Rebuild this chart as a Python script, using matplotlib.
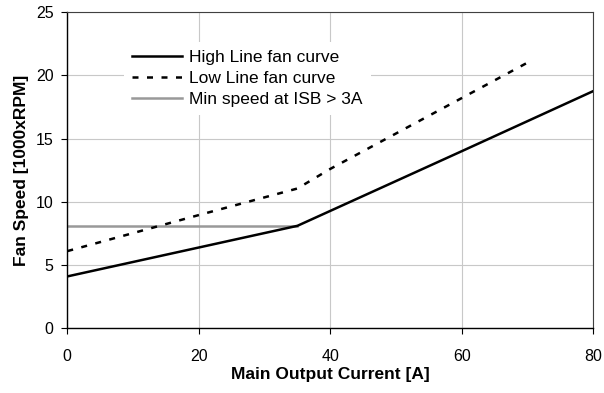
import matplotlib
matplotlib.use("Agg")
import matplotlib.pyplot as plt

plt.rcParams["font.family"] = ["Liberation Sans", "DejaVu Sans"]

# data
high_x = [0, 35, 60, 80]
high_y = [4.1, 8.1, 14.0, 18.75]
low_x = [0, 20, 35, 40, 50, 60, 70]
low_y = [6.1, 8.95, 11.05, 12.6, 15.4, 18.2, 21.0]
min_x = [0, 35]
min_y = [8.1, 8.1]
x_ticks = [0, 20, 40, 60, 80]
y_ticks = [0, 5, 10, 15, 20, 25]

fig = plt.figure(figsize=(6.04, 3.93), dpi=100)
ax = fig.add_axes([67.3 / 604, (393 - 328.3) / 393, 526 / 604, 316.3 / 393])

ax.plot(high_x, high_y, color="black", lw=1.8, solid_joinstyle="miter",
        label="High Line fan curve", zorder=3)
ax.plot(low_x, low_y, color="black", lw=1.8, dashes=(2.4, 3.4),
        label="Low Line fan curve", zorder=3)
ax.plot(min_x, min_y, color="#999999", lw=1.8,
        label="Min speed at ISB > 3A", zorder=2)

ax.set_xlim(0, 80)
ax.set_ylim(0, 25)
ax.set_xticks(x_ticks)
ax.set_yticks(y_ticks)
ax.grid(True, color="#c8c8c8", lw=0.8)
ax.set_axisbelow(True)
ax.tick_params(direction="out", length=4, width=0.8, labelsize=11.5)
ax.tick_params(axis="x", pad=11)
ax.tick_params(axis="y", pad=6)

for side in ["left", "bottom"]:
    ax.spines[side].set_linewidth(1.0)
    ax.spines[side].set_color("black")
for side in ["top", "right"]:
    ax.spines[side].set_linewidth(0.8)
    ax.spines[side].set_color("#404040")

ax.set_xlabel("Main Output Current [A]", fontsize=12.5, fontweight="bold", labelpad=2)
ax.set_ylabel("Fan Speed [1000xRPM]", fontsize=12.5, fontweight="bold", labelpad=5)

leg = ax.legend(loc="upper left", bbox_to_anchor=(0.108, 0.904), fontsize=12.5,
                frameon=True, fancybox=False, framealpha=1, edgecolor="none",
                handlelength=2.9, handletextpad=0.4, labelspacing=0.34,
                borderpad=0.45, borderaxespad=0)

fig.savefig("out.png", dpi=100)
